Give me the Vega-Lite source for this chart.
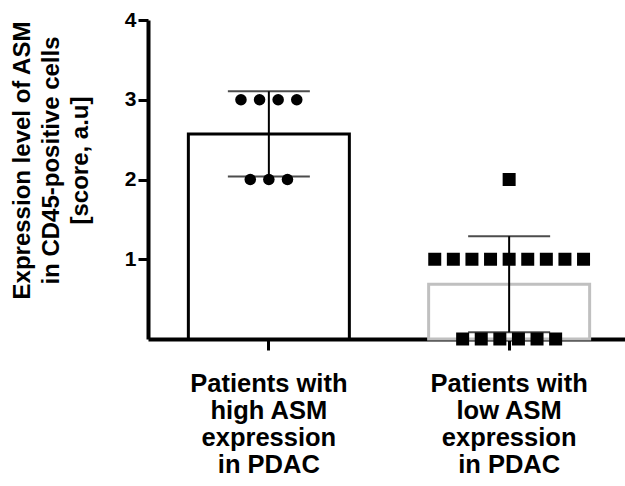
{
  "$schema": "https://vega.github.io/schema/vega-lite/v6.json",
  "width": 477,
  "height": 319,
  "autosize": {"type": "none"},
  "padding": {"left": 148, "top": 20, "right": 0, "bottom": 147},
  "background": "white",
  "config": {"font": "Liberation Sans", "view": {"stroke": null}},
  "data": {
    "values": [
      {"group": "high", "score": 3, "slot": -1.5},
      {"group": "high", "score": 3, "slot": -0.5},
      {"group": "high", "score": 3, "slot": 0.5},
      {"group": "high", "score": 3, "slot": 1.5},
      {"group": "high", "score": 2, "slot": -1},
      {"group": "high", "score": 2, "slot": 0},
      {"group": "high", "score": 2, "slot": 1},
      {"group": "low", "score": 2, "slot": 0},
      {"group": "low", "score": 1, "slot": -4},
      {"group": "low", "score": 1, "slot": -3},
      {"group": "low", "score": 1, "slot": -2},
      {"group": "low", "score": 1, "slot": -1},
      {"group": "low", "score": 1, "slot": 0},
      {"group": "low", "score": 1, "slot": 1},
      {"group": "low", "score": 1, "slot": 2},
      {"group": "low", "score": 1, "slot": 3},
      {"group": "low", "score": 1, "slot": 4},
      {"group": "low", "score": 0, "slot": -2.5},
      {"group": "low", "score": 0, "slot": -1.5},
      {"group": "low", "score": 0, "slot": -0.5},
      {"group": "low", "score": 0, "slot": 0.5},
      {"group": "low", "score": 0, "slot": 1.5},
      {"group": "low", "score": 0, "slot": 2.5}
    ]
  },
  "encoding": {
    "x": {
      "field": "group",
      "type": "nominal",
      "sort": ["high", "low"],
      "scale": {"range": [0, 482], "paddingInner": 0.33, "paddingOuter": 0.168},
      "axis": {
        "title": null,
        "labelAngle": 0,
        "labelExpr": "datum.value == 'high' ? ['Patients with', 'high ASM', 'expression', 'in PDAC'] : ['Patients with', 'low ASM', 'expression', 'in PDAC']",
        "labelFontSize": 25.5,
        "labelFontWeight": "bold",
        "labelColor": "black",
        "labelLineHeight": 27,
        "labelPadding": 21,
        "labelLimit": 400,
        "domainColor": "black",
        "domainWidth": 4,
        "tickColor": "black",
        "tickWidth": 3,
        "tickSize": 11
      }
    },
    "y": {
      "field": "score",
      "type": "quantitative",
      "scale": {"domain": [0, 4], "nice": false},
      "axis": {
        "values": [1, 2, 3, 4],
        "grid": false,
        "title": ["Expression level of ASM", "in CD45-positive cells", "[score, a.u]"],
        "titleFontSize": 24,
        "titleFontWeight": "bold",
        "titleColor": "black",
        "titleLineHeight": 29,
        "titlePadding": 32,
        "titleY": 140,
        "labelFontSize": 21,
        "labelFontWeight": "bold",
        "labelColor": "black",
        "labelPadding": 2,
        "domainColor": "black",
        "domainWidth": 4,
        "tickColor": "black",
        "tickWidth": 3,
        "tickSize": 10
      }
    }
  },
  "layer": [
    {
      "mark": {"type": "bar", "fill": "white", "strokeWidth": 3, "width": 161},
      "encoding": {
        "y": {
          "aggregate": "mean",
          "field": "score",
          "type": "quantitative",
          "scale": {"domain": [0, 4], "nice": false},
          "axis": {
            "values": [1, 2, 3, 4],
            "grid": false,
            "title": ["Expression level of ASM", "in CD45-positive cells", "[score, a.u]"],
            "titleFontSize": 24,
            "titleFontWeight": "bold",
            "titleColor": "black",
            "titleLineHeight": 29,
            "titlePadding": 32,
            "titleY": 140,
            "labelFontSize": 21,
            "labelFontWeight": "bold",
            "labelColor": "black",
            "labelPadding": 2,
            "domainColor": "black",
            "domainWidth": 4,
            "tickColor": "black",
            "tickWidth": 3,
            "tickSize": 10
          }
        },
        "stroke": {
          "field": "group",
          "type": "nominal",
          "scale": {"domain": ["high", "low"], "range": ["black", "#c0c0c0"]},
          "legend": null
        }
      }
    },
    {
      "mark": {
        "type": "errorbar",
        "extent": "stdev",
        "ticks": {"size": 82, "thickness": 2, "color": "black"},
        "rule": {"strokeWidth": 2, "color": "black"}
      },
      "encoding": {}
    },
    {
      "mark": {"type": "point", "filled": true, "opacity": 1, "strokeWidth": 0, "color": "black"},
      "encoding": {
        "xOffset": {
          "field": "slot",
          "type": "ordinal",
          "scale": {
            "type": "point",
            "domain": [-4, -3.5, -3, -2.5, -2, -1.5, -1, -0.5, 0, 0.5, 1, 1.5, 2, 2.5, 3, 3.5, 4],
            "padding": 0.656
          }
        },
        "shape": {
          "field": "group",
          "type": "nominal",
          "scale": {"domain": ["high", "low"], "range": ["circle", "square"]},
          "legend": null
        },
        "size": {
          "field": "group",
          "type": "ordinal",
          "scale": {"domain": ["high", "low"], "range": [133, 169]},
          "legend": null
        }
      }
    }
  ]
}
